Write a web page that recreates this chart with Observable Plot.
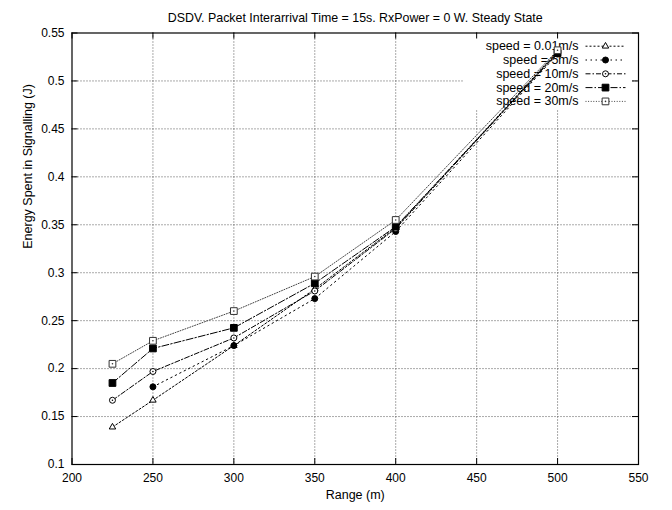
<!DOCTYPE html>
<html><head><meta charset="utf-8">
<script src="https://cdn.jsdelivr.net/npm/d3@7"></script>
<script src="https://cdn.jsdelivr.net/npm/@observablehq/plot@0.6"></script>
<style>body{margin:0;background:#fff} svg{display:block}</style>
</head><body><div id="chart"></div>
<script>
const titleText = "DSDV. Packet Interarrival Time = 15s. RxPower = 0 W. Steady State";
const xLabel = "Range (m)";
const yLabel = "Energy Spent in Signalling (J)";
const ranges = [225, 250, 300, 350, 400, 500];
const speeds = ["speed = 0.01m/s", "speed = 5m/s", "speed = 10m/s", "speed = 20m/s", "speed = 30m/s"];
const s001 = [0.139, 0.167, 0.224, 0.283, 0.347, 0.531];
const s5   = [null,  0.181, 0.224, 0.273, 0.343, 0.528];
const s10  = [0.167, 0.197, 0.232, 0.281, 0.346, 0.530];
const s20  = [0.185, 0.221, 0.2425, 0.289, 0.348, 0.529];
const s30  = [0.205, 0.229, 0.260, 0.296, 0.355, 0.532];
const xTicks = [200, 250, 300, 350, 400, 450, 500, 550];
const yTicks = [0.1, 0.15, 0.2, 0.25, 0.3, 0.35, 0.4, 0.45, 0.5, 0.55];

const W = 672, H = 510, ML = 71.5, MR = 34, MT = 32.5, MB = 46;
const xDom = [200, 550], yDom = [0.1, 0.55];
const px2x = p => xDom[0] + (p - ML) / (W - ML - MR) * (xDom[1] - xDom[0]);
const px2y = p => yDom[1] - (p - MT) / (H - MT - MB) * (yDom[1] - yDom[0]);
const TK = 6; // inward tick length (px)

const seriesVals = [s001, s5, s10, s20, s30];
const styles = [
  {dash: "2,2", stroke: "#000", symbol: "triangle", fill: "none", mstroke: "#000", r: 2.4, dotc: false},
  {dash: "1.5,3.5", stroke: "#000", symbol: "circle", fill: "#000", mstroke: "#000", r: 3, dotc: false},
  {dash: "5,2,1.5,2", stroke: "#000", symbol: "circle", fill: "none", mstroke: "#000", r: 3, dotc: true},
  {dash: "7,2,1.5,2", stroke: "#000", symbol: "square", fill: "#000", mstroke: "#000", r: 3.8, dotc: false},
  {dash: "1,1.6", stroke: "#444", symbol: "square", fill: "none", mstroke: "#333", r: 3.8, dotc: true}
];

const rows = [];
seriesVals.forEach((vals, si) => vals.forEach((v, i) => { if (v != null) rows.push({s: si, x: ranges[i], y: v}); }));

const legend = speeds.map((name, i) => ({
  s: i, name,
  tx: px2x(578), x1: px2x(585), x2: px2x(625), mx: px2x(605),
  y: px2y(45.7 + i * 13.8)
}));

const marks = [
  Plot.gridX(xTicks.slice(1, -1), {stroke: "#555", strokeOpacity: 1, strokeDasharray: "1,2"}),
  Plot.gridY(yTicks.slice(1, -1), {stroke: "#555", strokeOpacity: 1, strokeDasharray: "1,2"}),
  // legend background box (gnuplot key blanks grid)
  Plot.rect([0], {x1: px2x(463), x2: px2x(632), y1: px2y(33.5), y2: px2y(110), fill: "white"}),
  Plot.frame({stroke: "#000", strokeWidth: 1.2}),
  // inward ticks on all four sides
  Plot.ruleX(xTicks, {y1: yDom[0], y2: px2y(H - MB - TK), stroke: "#000"}),
  Plot.ruleX(xTicks, {y1: yDom[1], y2: px2y(MT + TK), stroke: "#000"}),
  Plot.ruleY(yTicks, {x1: xDom[0], x2: px2x(ML + TK), stroke: "#000"}),
  Plot.ruleY(yTicks, {x1: xDom[1], x2: px2x(W - MR - TK), stroke: "#000"}),
  Plot.axisX(xTicks, {anchor: "bottom", tickSize: 0, tickPadding: 9, label: null, fontSize: 12, fill: "#000"}),
  Plot.axisY(yTicks, {anchor: "left", tickSize: 0, tickPadding: 7.5, label: null, fontSize: 12, fill: "#000", tickFormat: d => String(+d.toFixed(2))}),
  Plot.text([titleText], {frameAnchor: "top", dy: -20, fontSize: 12.4, fill: "#000"}),
  Plot.text([xLabel], {frameAnchor: "bottom", dy: 34, fontSize: 12.5, fill: "#000"}),
  Plot.text([yLabel], {frameAnchor: "left", dx: -(ML - 27), rotate: -90, fontSize: 12.5, fill: "#000"})
];

styles.forEach((st, si) => {
  const d = rows.filter(r => r.s === si);
  const lg = legend.filter(r => r.s === si);
  marks.push(
    Plot.line(d, {x: "x", y: "y", stroke: st.stroke, strokeWidth: 1, strokeDasharray: st.dash}),
    Plot.link(lg, {x1: "x1", x2: "x2", y1: "y", y2: "y", stroke: st.stroke, strokeWidth: 1, strokeDasharray: st.dash}),
    Plot.dot(d, {x: "x", y: "y", symbol: st.symbol, r: st.r, fill: st.fill === "none" ? "white" : st.fill, stroke: st.mstroke, strokeWidth: 1}),
    Plot.dot(lg, {x: "mx", y: "y", symbol: st.symbol, r: st.r, fill: st.fill === "none" ? "white" : st.fill, stroke: st.mstroke, strokeWidth: 1}),
    Plot.text(lg, {x: "tx", y: "y", text: "name", textAnchor: "end", fontSize: 12.5, fill: "#000"})
  );
  if (st.dotc) {
    marks.push(
      Plot.dot(d, {x: "x", y: "y", r: 0.8, fill: st.mstroke}),
      Plot.dot(lg, {x: "mx", y: "y", r: 0.8, fill: st.mstroke})
    );
  }
});

const chart = Plot.plot({
  width: W, height: H,
  marginLeft: ML, marginRight: MR, marginTop: MT, marginBottom: MB,
  style: {fontFamily: "'Liberation Sans', Arial, Helvetica, sans-serif", background: "#fff", color: "#000"},
  x: {domain: xDom, axis: null},
  y: {domain: yDom, axis: null},
  marks
});
document.getElementById("chart").appendChild(chart);
</script>
</body></html>
